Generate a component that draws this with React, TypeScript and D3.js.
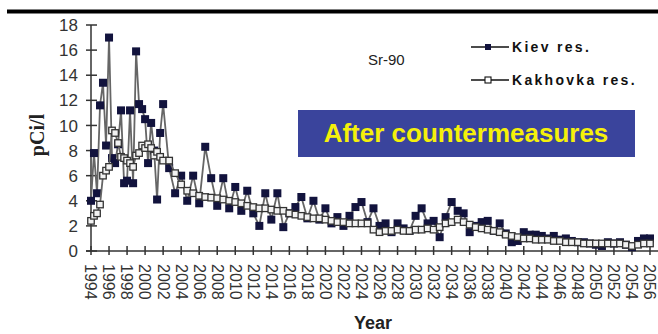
import React from "react";
import * as d3 from "d3";

// Sampling dates (fractional years) shared by both reservoirs
const sampleYears = [
  1994, 1994.33, 1994.67, 1995, 1995.33, 1995.67, 1996, 1996.33, 1996.67, 1997,
  1997.33, 1997.67, 1998, 1998.33, 1998.67, 1999, 1999.33, 1999.67, 2000, 2000.33,
  2000.67, 2001, 2001.33, 2001.67, 2002,
  2002.67, 2003.33, 2004, 2004.67, 2005.33, 2006, 2006.67, 2007.33, 2008, 2008.67,
  2009.33, 2010, 2010.67, 2011.33, 2012, 2012.67, 2013.33, 2014, 2014.67, 2015.33,
  2016, 2016.67, 2017.33, 2018, 2018.67, 2019.33, 2020, 2020.67, 2021.33, 2022,
  2022.67, 2023.33, 2024, 2024.67, 2025.33, 2026, 2026.67, 2027.33, 2028, 2028.67,
  2029.33, 2030, 2030.67, 2031.33, 2032, 2032.67, 2033.33, 2034, 2034.67, 2035.33,
  2036, 2036.67, 2037.33, 2038, 2038.67, 2039.33, 2040, 2040.67, 2041.33, 2042,
  2042.67, 2043.33, 2044, 2044.67, 2045.33, 2046, 2046.67, 2047.33, 2048, 2048.67,
  2049.33, 2050, 2050.67, 2051.33, 2052, 2052.67, 2053.33, 2054, 2054.67, 2055.33,
  2056,
];

// Sr-90 concentration, pCi/l
const kievValues = [
  4.0, 7.8, 4.6, 11.6, 13.4, 8.4, 17.0, 7.4, 7.0, 8.5, 11.2, 5.4, 5.6, 11.2, 5.4,
  15.9, 11.7, 11.3, 10.5, 7.0, 10.2, 8.0, 4.1, 9.4, 11.7,
  6.6, 4.6, 6.0, 4.0, 6.0, 3.8, 8.3, 5.8, 3.6, 5.8,
  3.4, 5.1, 3.2, 4.8, 3.0, 2.0, 4.6, 2.5, 4.6, 1.9,
  3.0, 3.5, 4.3, 2.6, 4.0, 2.5, 3.4, 2.2, 2.7, 2.0,
  2.8, 3.5, 3.9, 2.3, 3.4, 2.0, 2.2, 1.5, 2.2, 1.8,
  1.6, 2.8, 3.4, 2.2, 2.4, 1.1, 2.7, 3.9, 3.2, 3.0,
  1.5, 2.0, 2.3, 2.4, 1.6, 2.2, 1.4, 0.7, 0.8, 1.5,
  1.3, 1.3, 1.2, 1.0, 1.2, 0.9, 1.0, 0.8, 0.7, 0.7,
  0.6, 0.5, 0.4, 0.7, 0.6, 0.7, 0.5, 0.3, 0.8, 1.0,
  1.0,
];

const kakhovkaValues = [
  2.4, 2.8, 3.0, 3.7, 6.0, 6.4, 6.7, 9.6, 9.4, 8.6, 7.5, 7.4, 7.2, 7.0, 6.7, 7.6,
  7.8, 8.4, 8.2, 8.5, 8.2, 7.6, 7.9, 7.5, 7.2,
  7.2, 6.2, 5.3, 4.8, 4.6, 4.4, 4.3, 4.25, 4.2, 4.1,
  4.0, 3.9, 3.8, 3.6, 3.5, 3.4, 3.4, 3.3, 3.2, 3.2,
  3.0, 2.9, 2.8, 2.7, 2.6, 2.6, 2.5, 2.4, 2.3, 2.3,
  2.2, 2.2, 2.2, 2.2, 1.7, 1.5, 1.6, 1.6, 1.7, 1.6,
  1.6, 1.7, 1.7, 1.8, 1.7, 1.9, 2.2, 2.3, 2.5, 2.3,
  2.1, 1.9, 1.8, 1.7, 1.6, 1.5, 1.3, 1.2, 1.1, 1.0,
  1.0, 0.9, 0.9, 0.9, 0.8, 0.8, 0.7, 0.7, 0.7, 0.6,
  0.6, 0.6, 0.6, 0.6, 0.6, 0.6, 0.5, 0.4, 0.5, 0.6, 0.6,
];

const xTickYears = [
  1994, 1996, 1998, 2000, 2002, 2004, 2006, 2008, 2010, 2012, 2014, 2016, 2018,
  2020, 2022, 2024, 2026, 2028, 2030, 2032, 2034, 2036, 2038, 2040, 2042, 2044,
  2046, 2048, 2050, 2052, 2054, 2056,
];
const yTickValues = [0, 2, 4, 6, 8, 10, 12, 14, 16, 18];

const W = 658;
const H = 334;
const axisColor = "#333";
const lineColor = "#666";
const kievFill = "#12133d";
const sans = "'Liberation Sans', Arial, sans-serif";

export default function App() {
  const x = d3.scaleLinear().domain([1994, 2056]).range([91, 650]);
  const y = d3.scaleLinear().domain([0, 18]).range([251, 25]);

  const kievPts = sampleYears.map((t, i) => [t, kievValues[i]] as [number, number]);
  const kakhPts = sampleYears.map((t, i) => [t, kakhovkaValues[i]] as [number, number]);
  const line = d3
    .line<[number, number]>()
    .x((d) => x(d[0]))
    .y((d) => y(d[1]));

  const kievSize = 8;
  const kakhSize = 6.5;

  return (
    <svg
      width={W}
      height={H}
      viewBox={`0 0 ${W} ${H}`}
      style={{ position: "absolute", left: 0, top: 0, background: "#fff" }}
    >
      {/* heading rule */}
      <rect x={7} y={9.5} width={W - 7} height={4} fill="#000" />

      {/* y axis */}
      <line x1={91} x2={91} y1={y(18)} y2={y(0)} stroke={axisColor} strokeWidth={1.5} />
      {yTickValues.map((v) => (
        <g key={v}>
          <line x1={86} x2={97} y1={y(v)} y2={y(v)} stroke={axisColor} strokeWidth={1.5} />
          <text
            x={78}
            y={y(v)}
            dy="0.36em"
            textAnchor="end"
            fontFamily={sans}
            fontSize={17}
            fill="#333"
          >
            {v}
          </text>
        </g>
      ))}

      {/* x axis */}
      <line x1={86} x2={W} y1={y(0)} y2={y(0)} stroke={axisColor} strokeWidth={1.5} />
      {xTickYears.map((t) => (
        <g key={t}>
          <line x1={x(t)} x2={x(t)} y1={246} y2={255} stroke={axisColor} strokeWidth={1.5} />
          <text
            transform={`translate(${x(t)},264) rotate(90)`}
            dy="0.35em"
            textAnchor="start"
            fontFamily={sans}
            fontSize={16}
            fill="#333"
          >
            {t}
          </text>
        </g>
      ))}

      {/* axis titles */}
      <text
        x={373}
        y={329}
        textAnchor="middle"
        fontFamily={sans}
        fontWeight="bold"
        fontSize={18}
        fill="#222"
      >
        Year
      </text>
      <text
        transform="translate(37,135) rotate(-90)"
        dy="0.35em"
        textAnchor="middle"
        fontFamily="'Liberation Serif', 'Times New Roman', serif"
        fontWeight="bold"
        fontSize={20}
        fill="#222"
      >
        pCi/l
      </text>

      {/* Kiev reservoir */}
      <path d={line(kievPts) ?? ""} fill="none" stroke={lineColor} strokeWidth={1.8} />
      {kievPts.map((d, i) => (
        <rect
          key={`k${i}`}
          x={x(d[0]) - kievSize / 2}
          y={y(d[1]) - kievSize / 2}
          width={kievSize}
          height={kievSize}
          fill={kievFill}
        />
      ))}

      {/* Kakhovka reservoir */}
      <path d={line(kakhPts) ?? ""} fill="none" stroke={lineColor} strokeWidth={1.8} />
      {kakhPts.map((d, i) => (
        <rect
          key={`h${i}`}
          x={x(d[0]) - kakhSize / 2}
          y={y(d[1]) - kakhSize / 2}
          width={kakhSize}
          height={kakhSize}
          fill="#f2f2f2"
          stroke="#333"
          strokeWidth={1.3}
        />
      ))}

      {/* series label */}
      <text x={368} y={65} fontFamily={sans} fontSize={15} fill="#222">
        Sr-90
      </text>

      {/* legend */}
      <line x1={471} x2={509} y1={47} y2={47} stroke="#111" strokeWidth={1.5} />
      <rect x={485} y={44} width={6} height={6} fill={kievFill} />
      <text x={512} y={52} fontFamily={sans} fontWeight="bold" fontSize={14} letterSpacing={2.3} fill="#111">
        Kiev res.
      </text>
      <line x1={471} x2={509} y1={80} y2={80} stroke="#111" strokeWidth={1.5} />
      <rect x={485} y={77} width={6} height={6} fill="#fff" stroke="#111" strokeWidth={1.1} />
      <text x={512} y={85} fontFamily={sans} fontWeight="bold" fontSize={14} letterSpacing={2.3} fill="#111">
        Kakhovka res.
      </text>

      {/* annotation box */}
      <rect x={298} y={110} width={337} height={47} fill="#3a449c" />
      <text
        x={466}
        y={142}
        textAnchor="middle"
        fontFamily={sans}
        fontWeight="bold"
        fontSize={26}
        fill="#f5f00a"
      >
        After countermeasures
      </text>
    </svg>
  );
}
